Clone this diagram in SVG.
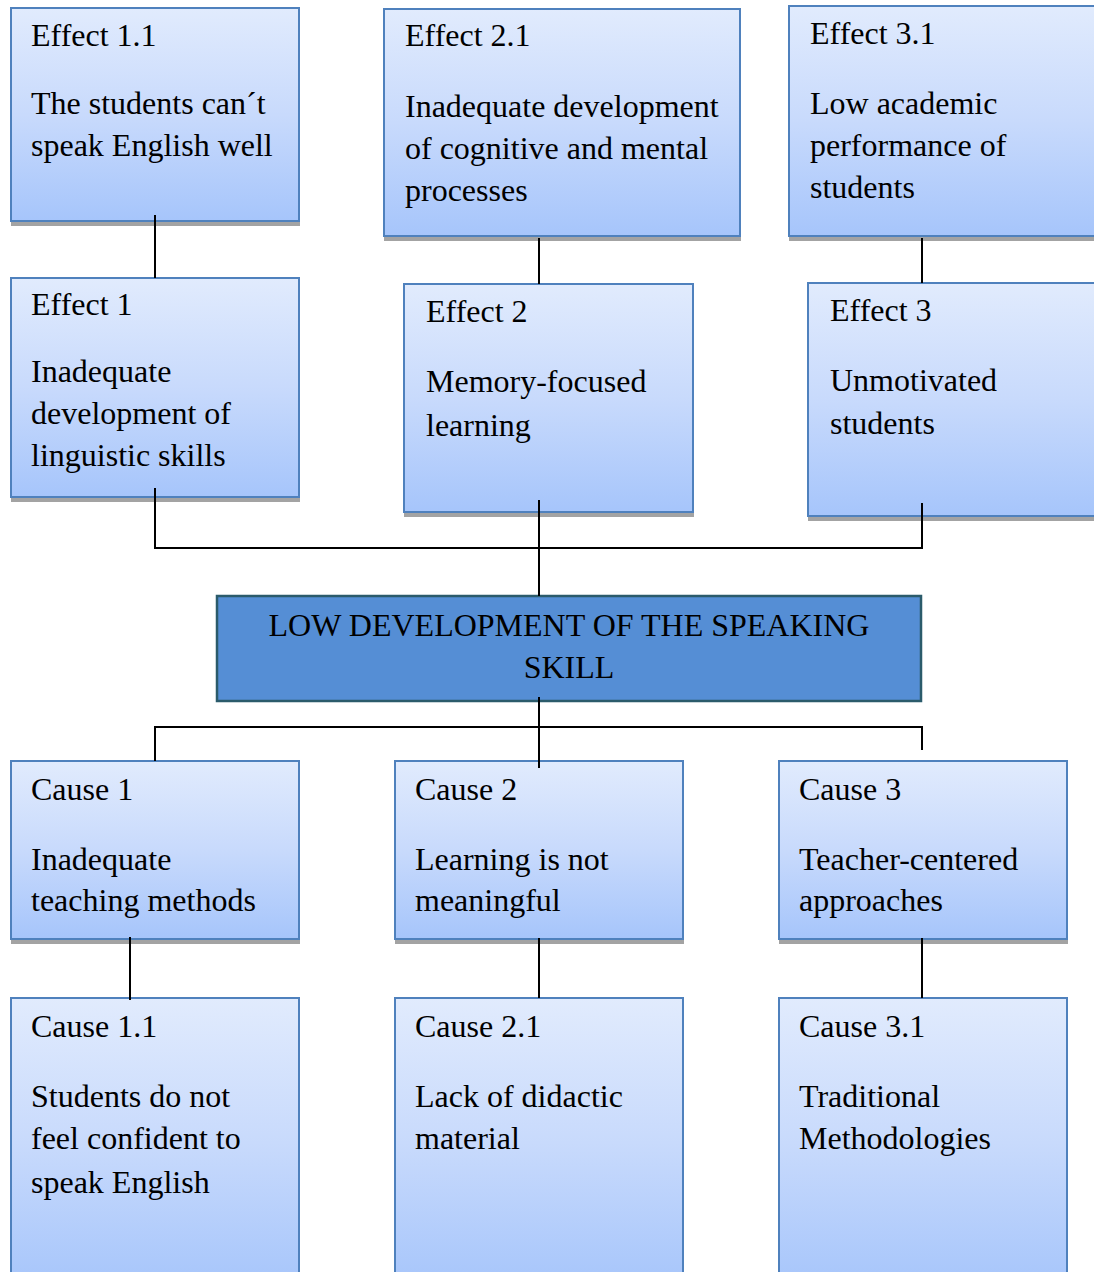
<svg xmlns="http://www.w3.org/2000/svg" width="1094" height="1272" viewBox="0 0 1094 1272">
<defs>
<linearGradient id="g" x1="0" y1="0" x2="0" y2="1">
<stop offset="0" stop-color="#e1ebfd"/>
<stop offset="0.5" stop-color="#c8dafc"/>
<stop offset="1" stop-color="#a6c5fb"/>
</linearGradient>
<style>
.box{fill:url(#g);stroke:#4f81bd;stroke-width:2}
.sh{fill:#a3a3a3}
.t{font-family:"Liberation Serif","Times New Roman",serif;font-size:32px;fill:#000}
.main{fill:#558ed5;stroke:#2b5b6b;stroke-width:2.5}
.c{stroke:#000;stroke-width:2;fill:none}
</style>
</defs>
<rect width="1094" height="1272" fill="#fff"/>
<g id="effect11">
<rect class="sh" x="11" y="221" width="289" height="5"/>
<rect class="box" x="11" y="8" width="288" height="213"/>
<text class="t" x="31" y="46">Effect 1.1</text>
<text class="t" x="31" y="114">The students can´t</text>
<text class="t" x="31" y="156">speak English well</text>
</g>
<g id="effect21">
<rect class="sh" x="384" y="236" width="357" height="5"/>
<rect class="box" x="384" y="9" width="356" height="227"/>
<text class="t" x="405" y="46">Effect 2.1</text>
<text class="t" x="405" y="117">Inadequate development</text>
<text class="t" x="405" y="159">of cognitive and mental</text>
<text class="t" x="405" y="201">processes</text>
</g>
<g id="effect31">
<rect class="sh" x="789" y="236" width="310" height="5"/>
<rect class="box" x="789" y="6" width="310" height="230"/>
<text class="t" x="810" y="44">Effect 3.1</text>
<text class="t" x="810" y="114">Low academic</text>
<text class="t" x="810" y="156">performance of</text>
<text class="t" x="810" y="198">students</text>
</g>
<g id="effect1">
<rect class="sh" x="11" y="497" width="289" height="5"/>
<rect class="box" x="11" y="278" width="288" height="219"/>
<text class="t" x="31" y="315">Effect 1</text>
<text class="t" x="31" y="382">Inadequate</text>
<text class="t" x="31" y="424">development of</text>
<text class="t" x="31" y="466">linguistic skills</text>
</g>
<g id="effect2">
<rect class="sh" x="404" y="512" width="290" height="5"/>
<rect class="box" x="404" y="284" width="289" height="228"/>
<text class="t" x="426" y="322">Effect 2</text>
<text class="t" x="426" y="392">Memory-focused</text>
<text class="t" x="426" y="436">learning</text>
</g>
<g id="effect3">
<rect class="sh" x="808" y="516" width="290" height="5"/>
<rect class="box" x="808" y="283" width="290" height="233"/>
<text class="t" x="830" y="321">Effect 3</text>
<text class="t" x="830" y="391">Unmotivated</text>
<text class="t" x="830" y="434">students</text>
</g>
<g id="main">
<rect class="main" x="217" y="596" width="704" height="105"/>
<text class="t" x="569" y="636" text-anchor="middle">LOW DEVELOPMENT OF THE SPEAKING</text>
<text class="t" x="569" y="678" text-anchor="middle">SKILL</text>
</g>
<g id="cause1">
<rect class="sh" x="11" y="939" width="289" height="5"/>
<rect class="box" x="11" y="761" width="288" height="178"/>
<text class="t" x="31" y="800">Cause 1</text>
<text class="t" x="31" y="870">Inadequate</text>
<text class="t" x="31" y="911">teaching methods</text>
</g>
<g id="cause2">
<rect class="sh" x="395" y="939" width="289" height="5"/>
<rect class="box" x="395" y="761" width="288" height="178"/>
<text class="t" x="415" y="800">Cause 2</text>
<text class="t" x="415" y="870">Learning is not</text>
<text class="t" x="415" y="911">meaningful</text>
</g>
<g id="cause3">
<rect class="sh" x="779" y="939" width="289" height="5"/>
<rect class="box" x="779" y="761" width="288" height="178"/>
<text class="t" x="799" y="800">Cause 3</text>
<text class="t" x="799" y="870">Teacher-centered</text>
<text class="t" x="799" y="911">approaches</text>
</g>
<g id="cause11">
<rect class="box" x="11" y="998" width="288" height="290"/>
<text class="t" x="31" y="1037">Cause 1.1</text>
<text class="t" x="31" y="1107">Students do not</text>
<text class="t" x="31" y="1149">feel confident to</text>
<text class="t" x="31" y="1193">speak English</text>
</g>
<g id="cause21">
<rect class="box" x="395" y="998" width="288" height="290"/>
<text class="t" x="415" y="1037">Cause 2.1</text>
<text class="t" x="415" y="1107">Lack of didactic</text>
<text class="t" x="415" y="1149">material</text>
</g>
<g id="cause31">
<rect class="box" x="779" y="998" width="288" height="290"/>
<text class="t" x="799" y="1037">Cause 3.1</text>
<text class="t" x="799" y="1107">Traditional</text>
<text class="t" x="799" y="1149">Methodologies</text>
</g>
<g id="connectors">
<line class="c" x1="155" y1="215" x2="155" y2="278"/>
<line class="c" x1="539" y1="238" x2="539" y2="284"/>
<line class="c" x1="922" y1="238" x2="922" y2="283"/>
<polyline class="c" points="155,488 155,548 922,548 922,503"/>
<line class="c" x1="539" y1="500" x2="539" y2="596"/>
<line class="c" x1="539" y1="697" x2="539" y2="768"/>
<polyline class="c" points="155,761 155,727 922,727 922,750"/>
<line class="c" x1="130" y1="937" x2="130" y2="1000"/>
<line class="c" x1="539" y1="938" x2="539" y2="998"/>
<line class="c" x1="922" y1="938" x2="922" y2="998"/>
</g>
</svg>
